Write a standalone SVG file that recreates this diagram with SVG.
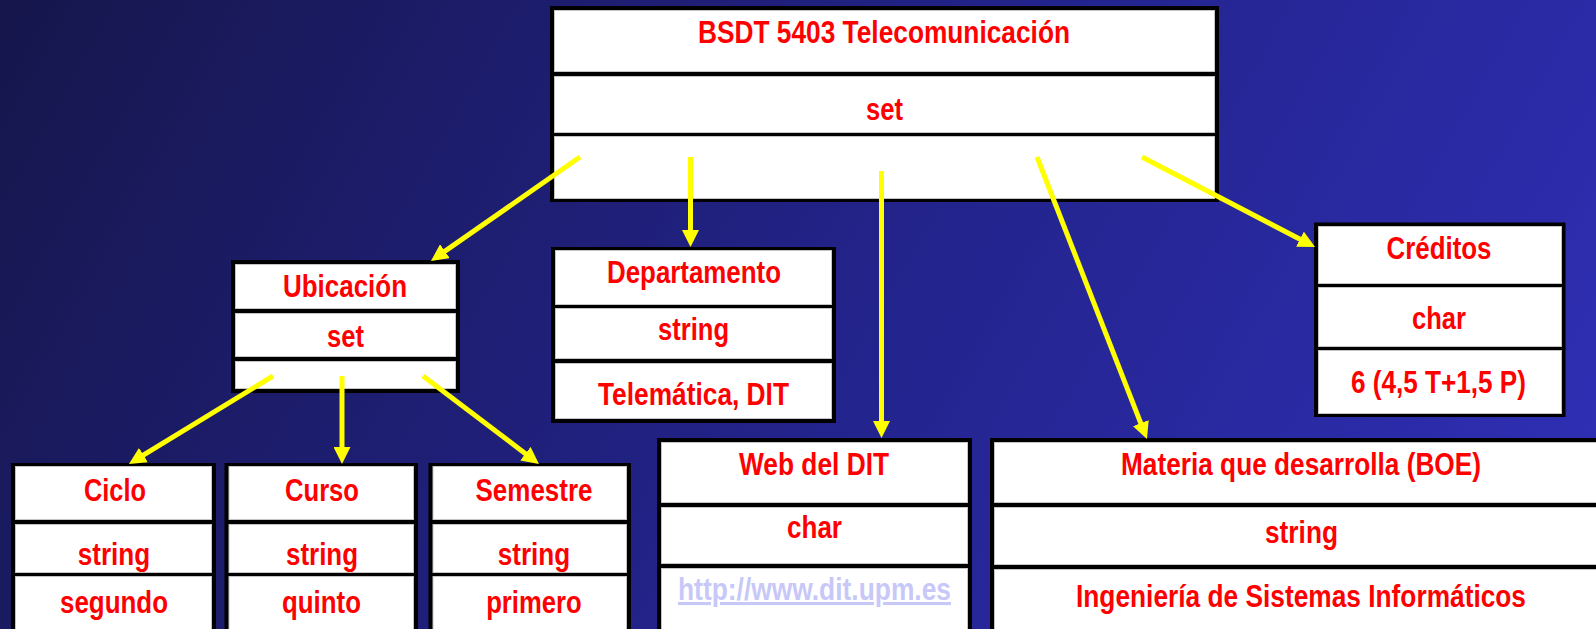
<svg xmlns="http://www.w3.org/2000/svg" width="1596" height="629" viewBox="0 0 1596 629">
<defs>
<linearGradient id="bg" x1="0" y1="0" x2="1596" y2="900" gradientUnits="userSpaceOnUse">
<stop offset="0" stop-color="#16164c"/>
<stop offset="0.5" stop-color="#23238c"/>
<stop offset="1" stop-color="#3232c0"/>
</linearGradient>
<marker id="ah" markerUnits="userSpaceOnUse" markerWidth="17" markerHeight="17" viewBox="0 0 17 17" refX="5" refY="8.5" orient="auto">
<path d="M0,0 L17,8.5 L0,17 z" fill="#ffff00"/>
</marker>
<style>
.box{fill:#000}
.cell{fill:#fff;stroke:#c4c4c4;stroke-width:1}
.t{font-family:"Liberation Sans Narrow","Liberation Sans",Arial,sans-serif;font-weight:bold;font-size:31px;fill:#ff0000;text-anchor:middle}
.link{fill:#c8c8f8;text-decoration:underline}
.conn line{stroke:#ffff00;stroke-width:5;marker-end:url(#ah)}
</style>
</defs>
<rect width="1596" height="629" fill="url(#bg)"/>

<g id="bsdt">
<rect class="box" x="550" y="6" width="669" height="196"/>
<rect class="cell" x="554.5" y="10.5" width="660" height="61"/>
<rect class="cell" x="554.5" y="76.5" width="660" height="56"/>
<rect class="cell" x="554.5" y="136.5" width="660" height="62"/>
<text class="t" x="884" y="43" textLength="372" lengthAdjust="spacingAndGlyphs">BSDT 5403 Telecomunicación</text>
<text class="t" x="884.5" y="120" textLength="37" lengthAdjust="spacingAndGlyphs">set</text>
</g>

<g id="ubicacion">
<rect class="box" x="231" y="260" width="229" height="133"/>
<rect class="cell" x="235.5" y="264.5" width="220" height="44"/>
<rect class="cell" x="235.5" y="313.5" width="220" height="43"/>
<rect class="cell" x="235.5" y="361.5" width="220" height="27"/>
<text class="t" x="345" y="297" textLength="124" lengthAdjust="spacingAndGlyphs">Ubicación</text>
<text class="t" x="345.5" y="347" textLength="37" lengthAdjust="spacingAndGlyphs">set</text>
</g>

<g id="departamento">
<rect class="box" x="551" y="247" width="285" height="176"/>
<rect class="cell" x="555.5" y="250.5" width="276" height="54"/>
<rect class="cell" x="555.5" y="308.5" width="276" height="50"/>
<rect class="cell" x="555.5" y="363.5" width="276" height="55"/>
<text class="t" x="694" y="283" textLength="174" lengthAdjust="spacingAndGlyphs">Departamento</text>
<text class="t" x="693.5" y="340" textLength="71" lengthAdjust="spacingAndGlyphs">string</text>
<text class="t" x="693.5" y="405" textLength="191" lengthAdjust="spacingAndGlyphs">Telemática, DIT</text>
</g>

<g id="creditos">
<rect class="box" x="1314" y="222.5" width="251.5" height="194.5"/>
<rect class="cell" x="1318.5" y="226.5" width="243" height="57"/>
<rect class="cell" x="1318.5" y="287.5" width="243" height="59"/>
<rect class="cell" x="1318.5" y="350.5" width="243" height="63"/>
<text class="t" x="1439" y="259" textLength="105" lengthAdjust="spacingAndGlyphs">Créditos</text>
<text class="t" x="1439" y="329" textLength="54" lengthAdjust="spacingAndGlyphs">char</text>
<text class="t" x="1438.5" y="393" textLength="175" lengthAdjust="spacingAndGlyphs">6 (4,5 T+1,5 P)</text>
</g>

<g id="web">
<rect class="box" x="657" y="438" width="315" height="200"/>
<rect class="cell" x="661.5" y="442.5" width="306" height="60"/>
<rect class="cell" x="661.5" y="507.5" width="306" height="56"/>
<rect class="cell" x="661.5" y="568.5" width="306" height="70"/>
<text class="t" x="814" y="475" textLength="150" lengthAdjust="spacingAndGlyphs">Web del DIT</text>
<text class="t" x="814.5" y="538" textLength="55" lengthAdjust="spacingAndGlyphs">char</text>
<text class="t link" x="814.5" y="600" textLength="273" lengthAdjust="spacingAndGlyphs">http://www.dit.upm.es</text>
</g>

<g id="materia">
<rect class="box" x="990" y="438" width="620" height="200"/>
<rect class="cell" x="994.5" y="442.5" width="620" height="60"/>
<rect class="cell" x="994.5" y="507.5" width="620" height="57"/>
<rect class="cell" x="994.5" y="569.5" width="620" height="70"/>
<text class="t" x="1301" y="475" textLength="360" lengthAdjust="spacingAndGlyphs">Materia que desarrolla (BOE)</text>
<text class="t" x="1301.5" y="543" textLength="73" lengthAdjust="spacingAndGlyphs">string</text>
<text class="t" x="1301" y="607" textLength="450" lengthAdjust="spacingAndGlyphs">Ingeniería de Sistemas Informáticos</text>
</g>

<g id="ciclo">
<rect class="box" x="11" y="463" width="205" height="180"/>
<rect class="cell" x="15.5" y="466.5" width="196" height="53"/>
<rect class="cell" x="15.5" y="524.5" width="196" height="48"/>
<rect class="cell" x="15.5" y="576.5" width="196" height="70"/>
<text class="t" x="115" y="501" textLength="62" lengthAdjust="spacingAndGlyphs">Ciclo</text>
<text class="t" x="114" y="565" textLength="72.5" lengthAdjust="spacingAndGlyphs">string</text>
<text class="t" x="114" y="613" textLength="108" lengthAdjust="spacingAndGlyphs">segundo</text>
</g>

<g id="curso">
<rect class="box" x="224.5" y="463" width="193.5" height="180"/>
<rect class="cell" x="229" y="466.5" width="184.5" height="53"/>
<rect class="cell" x="229" y="524.5" width="184.5" height="48"/>
<rect class="cell" x="229" y="576.5" width="184.5" height="70"/>
<text class="t" x="322" y="501" textLength="74" lengthAdjust="spacingAndGlyphs">Curso</text>
<text class="t" x="322" y="565" textLength="72" lengthAdjust="spacingAndGlyphs">string</text>
<text class="t" x="321.5" y="613" textLength="79" lengthAdjust="spacingAndGlyphs">quinto</text>
</g>

<g id="semestre">
<rect class="box" x="428.5" y="463" width="202.5" height="180"/>
<rect class="cell" x="433" y="466.5" width="193.5" height="53"/>
<rect class="cell" x="433" y="524.5" width="193.5" height="48"/>
<rect class="cell" x="433" y="576.5" width="193.5" height="70"/>
<text class="t" x="534" y="501" textLength="117" lengthAdjust="spacingAndGlyphs">Semestre</text>
<text class="t" x="534" y="565" textLength="72.5" lengthAdjust="spacingAndGlyphs">string</text>
<text class="t" x="534" y="613" textLength="95.6" lengthAdjust="spacingAndGlyphs">primero</text>
</g>

<g id="connectors" class="conn">
<line x1="580" y1="157" x2="440.8" y2="254.1"/>
<line x1="690.5" y1="157" x2="690.5" y2="235"/>
<line x1="881.5" y1="171" x2="881.5" y2="426"/>
<line x1="1037" y1="157" x2="1142.6" y2="427.8"/>
<line x1="1142" y1="157" x2="1304.4" y2="241.5"/>
<line x1="273" y1="376" x2="139.2" y2="457.7"/>
<line x1="342" y1="376" x2="342" y2="452"/>
<line x1="423" y1="376" x2="529.4" y2="456.7"/>
</g>
</svg>
